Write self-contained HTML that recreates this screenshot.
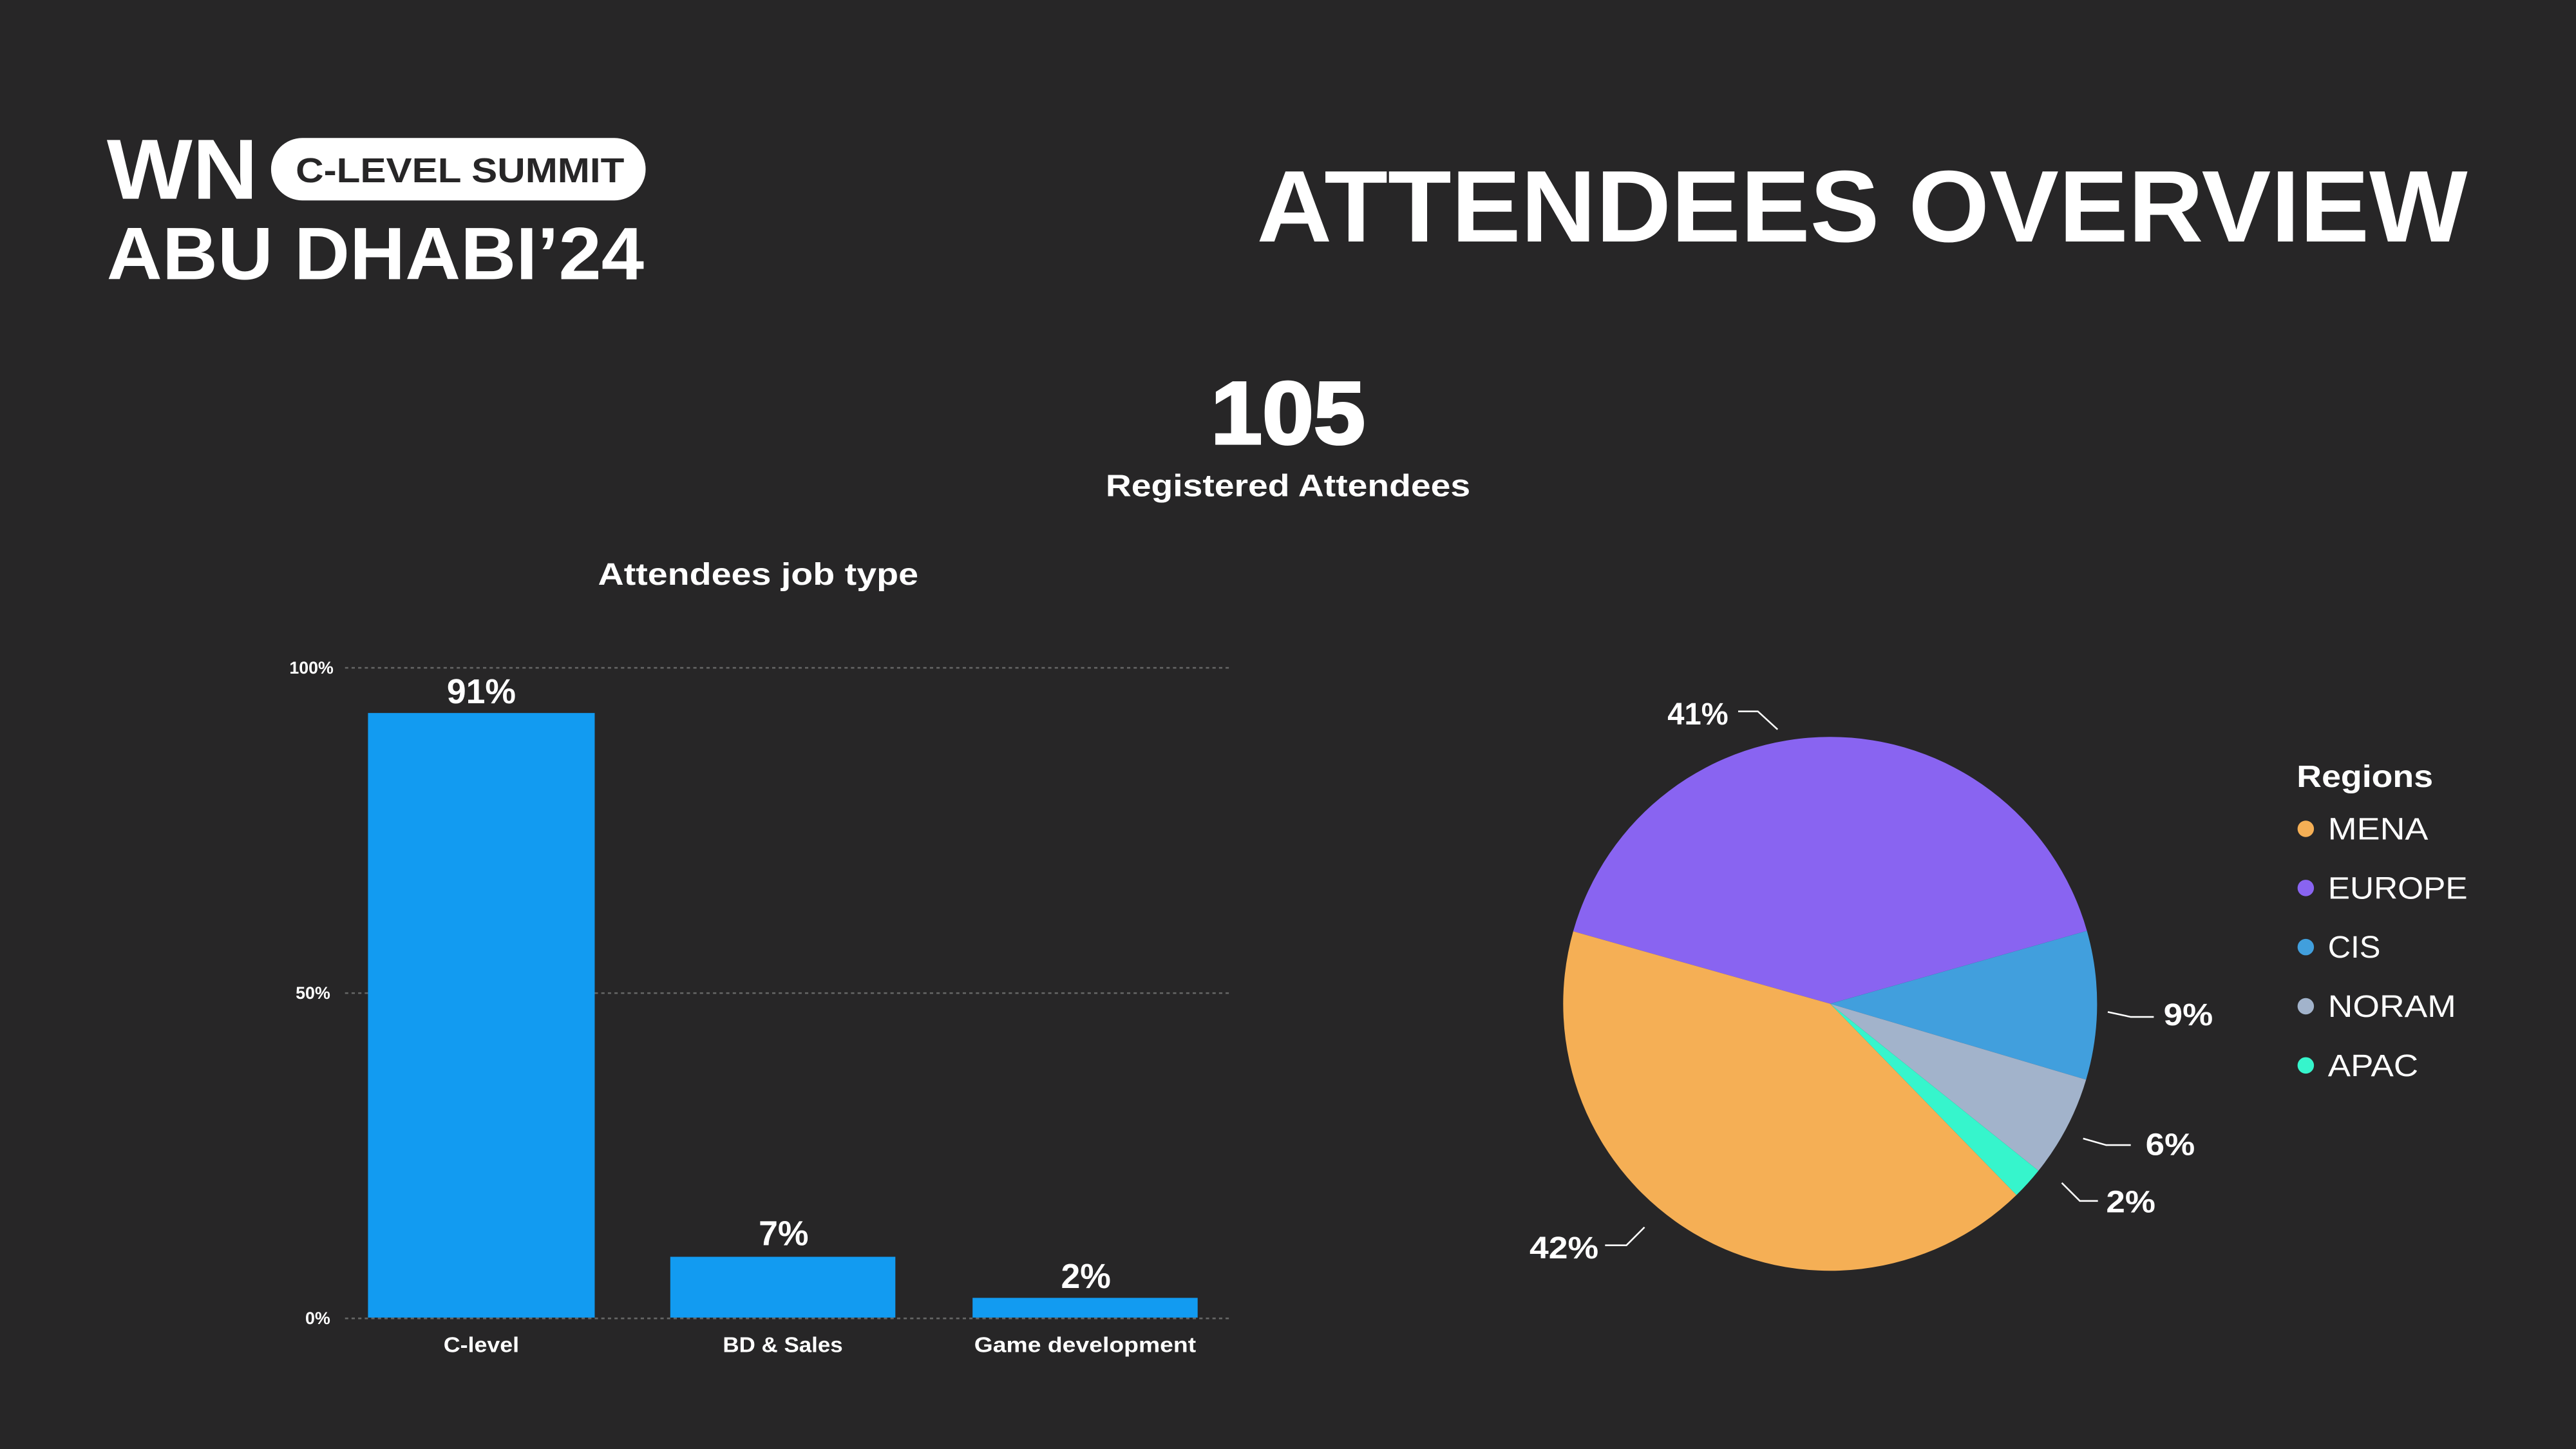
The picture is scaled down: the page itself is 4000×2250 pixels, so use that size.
<!DOCTYPE html>
<html><head><meta charset="utf-8"><style>
html,body{margin:0;padding:0;background:#272627;}
svg{display:block;}
text{font-family:"Liberation Sans",sans-serif;fill:#fff;}
</style></head><body>
<svg width="4000" height="2250" viewBox="0 0 1568 882" xmlns="http://www.w3.org/2000/svg">
<rect width="1568" height="882" fill="#272627"/>
<text x="65" y="121" font-size="52" font-weight="bold" textLength="92" lengthAdjust="spacingAndGlyphs">WN</text>
<rect x="165" y="84" width="228" height="38" rx="19" fill="#fff"/>
<text x="180" y="111" font-size="21" font-weight="bold" style="fill:#272627" textLength="200" lengthAdjust="spacingAndGlyphs">C-LEVEL SUMMIT</text>
<text x="65" y="170" font-size="45" font-weight="bold" textLength="327" lengthAdjust="spacingAndGlyphs">ABU DHABI’24</text>
<text x="765" y="147" font-size="62" font-weight="bold" textLength="737" lengthAdjust="spacingAndGlyphs">ATTENDEES OVERVIEW</text>
<text x="737" y="270" font-size="54" font-weight="bold" stroke="#fff" stroke-width="1.5" textLength="94" lengthAdjust="spacingAndGlyphs">105</text>
<text x="673" y="302" font-size="19" font-weight="bold" textLength="222" lengthAdjust="spacingAndGlyphs">Registered Attendees</text>
<text x="364" y="356" font-size="19" font-weight="bold" textLength="195" lengthAdjust="spacingAndGlyphs">Attendees job type</text>
<g stroke="#666" stroke-width="1" stroke-dasharray="2,2">
<line x1="210" y1="406.5" x2="748" y2="406.5"/>
<line x1="210" y1="604.5" x2="748" y2="604.5"/>
<line x1="210" y1="802.5" x2="748" y2="802.5"/>
</g>
<g font-size="10.5" font-weight="bold" text-anchor="end">
<text x="203" y="410">100%</text>
<text x="201" y="608">50%</text>
<text x="201" y="806">0%</text>
</g>
<g fill="#129bf1">
<rect x="224" y="434" width="138" height="368"/>
<rect x="408" y="765" width="137" height="37"/>
<rect x="592" y="790" width="137" height="12"/>
</g>
<g font-size="21" font-weight="bold" text-anchor="middle">
<text x="293" y="428">91%</text>
<text x="477" y="758">7%</text>
<text x="661" y="784">2%</text>
</g>
<g font-size="13" font-weight="bold">
<text x="270" y="823" textLength="46" lengthAdjust="spacingAndGlyphs">C-level</text>
<text x="440" y="823" textLength="73" lengthAdjust="spacingAndGlyphs">BD &amp; Sales</text>
<text x="593" y="823" textLength="135" lengthAdjust="spacingAndGlyphs">Game development</text>
</g>
<path d="M1114 611 L957.6 566.9 A162.5 162.5 0 0 1 1270.3 566.6 Z" fill="#8964f1"/>
<path d="M1114 611 L1270.3 566.6 A162.5 162.5 0 0 1 1269.8 657.2 Z" fill="#419fdd"/>
<path d="M1114 611 L1269.8 657.2 A162.5 162.5 0 0 1 1240.8 712.6 Z" fill="#a2b3cb"/>
<path d="M1114 611 L1240.8 712.6 A162.5 162.5 0 0 1 1227.4 727.4 Z" fill="#36f5cc"/>
<path d="M1114 611 L1227.4 727.4 A162.5 162.5 0 0 1 957.6 566.9 Z" fill="#f5af55"/>
<g stroke="#fff" stroke-width="1" fill="none">
<polyline points="1058,433 1070,433 1082,444"/>
<polyline points="1283,616 1297,619 1311,619"/>
<polyline points="1268,693 1282,697 1297,697"/>
<polyline points="1255,720 1266,731 1277,731"/>
<polyline points="977,758 990,758 1001,747"/>
</g>
<g font-size="19" font-weight="bold">
<text x="1015" y="441" textLength="37" lengthAdjust="spacingAndGlyphs">41%</text>
<text x="1317" y="624" textLength="30" lengthAdjust="spacingAndGlyphs">9%</text>
<text x="1306" y="703" textLength="30" lengthAdjust="spacingAndGlyphs">6%</text>
<text x="1282" y="738" textLength="30" lengthAdjust="spacingAndGlyphs">2%</text>
<text x="931" y="766" textLength="42" lengthAdjust="spacingAndGlyphs">42%</text>
</g>
<text x="1398" y="479" font-size="19" font-weight="bold" textLength="83" lengthAdjust="spacingAndGlyphs">Regions</text>
<circle cx="1403.5" cy="504.5" r="5" fill="#f5af55"/>
<circle cx="1403.5" cy="540.5" r="5" fill="#8964f1"/>
<circle cx="1403.5" cy="576.5" r="5" fill="#419fdd"/>
<circle cx="1403.5" cy="612.5" r="5" fill="#a2b3cb"/>
<circle cx="1403.5" cy="648.5" r="5" fill="#36f5cc"/>
<g font-size="19">
<text x="1417" y="511" textLength="61" lengthAdjust="spacingAndGlyphs">MENA</text>
<text x="1417" y="547" textLength="85" lengthAdjust="spacingAndGlyphs">EUROPE</text>
<text x="1417" y="583" textLength="32" lengthAdjust="spacingAndGlyphs">CIS</text>
<text x="1417" y="619" textLength="78" lengthAdjust="spacingAndGlyphs">NORAM</text>
<text x="1417" y="655" textLength="55" lengthAdjust="spacingAndGlyphs">APAC</text>
</g>
</svg>
</body></html>
